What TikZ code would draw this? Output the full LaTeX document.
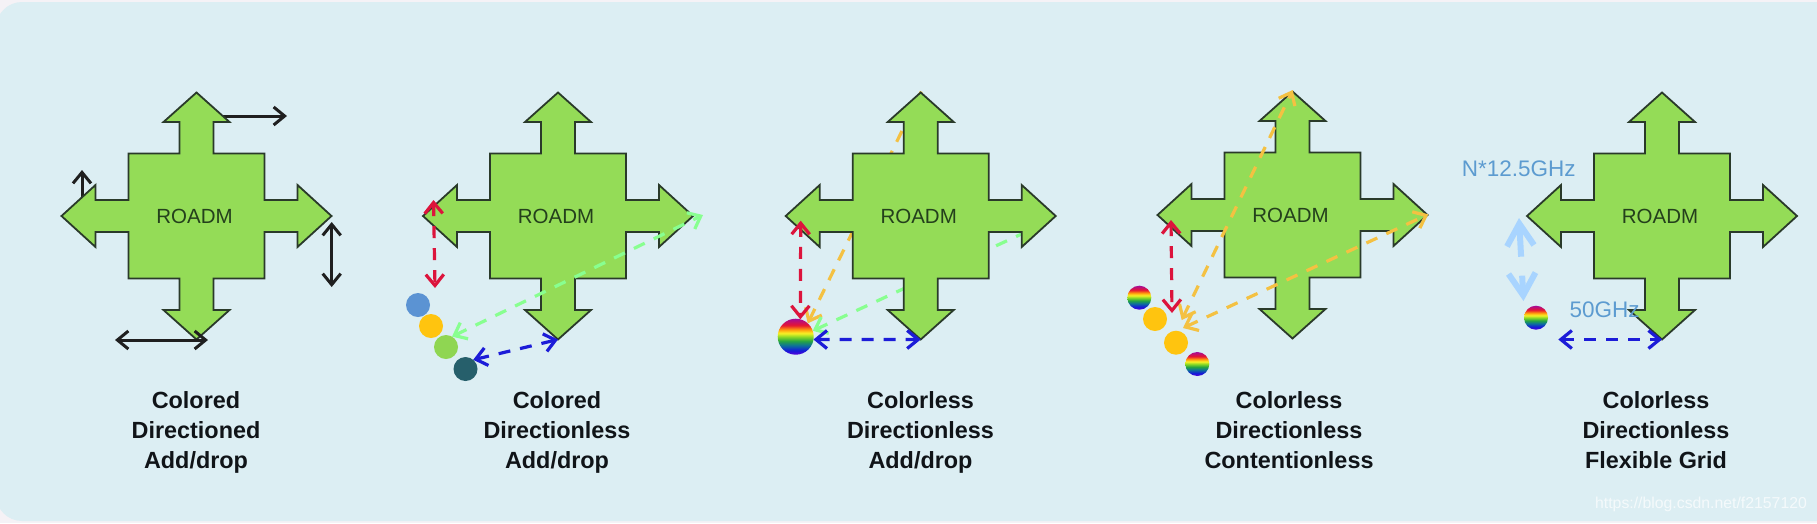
\documentclass[tikz,border=0pt]{standalone}
\usepackage{fontspec}
\setmainfont{Liberation Sans}
\usetikzlibrary{arrows.meta}
\definecolor{panelbg}{HTML}{DCEEF3}
\definecolor{outerbg}{HTML}{F5F2F6}
\definecolor{crossgreen}{HTML}{94DC57}
\definecolor{crossline}{HTML}{2A3A2A}
\definecolor{linkred}{HTML}{DC143C}
\definecolor{linkblue}{HTML}{1C1CD8}
\definecolor{linkgreen}{HTML}{88FF90}
\definecolor{linkorange}{HTML}{F4C142}
\definecolor{lightarrow}{HTML}{A8D4FF}
\definecolor{balblue}{HTML}{5B93D3}
\definecolor{balyellow}{HTML}{FFC40F}
\definecolor{balgreen}{HTML}{8FD652}
\definecolor{baldark}{HTML}{265F6B}
\definecolor{ghz}{HTML}{5C9BD0}
\definecolor{titleink}{HTML}{101418}
\definecolor{roadmink}{HTML}{24401C}
\pgfdeclareverticalshading{rainbowball}{100bp}{
 rgb(0bp)=(0.35,0,0.85); rgb(25bp)=(0.35,0,0.85); rgb(31bp)=(0.08,0.1,0.85);
 rgb(38bp)=(0.05,0.45,0.6); rgb(44bp)=(0.15,0.65,0.25); rgb(50bp)=(0.55,0.85,0.15);
 rgb(55bp)=(0.98,0.95,0.15); rgb(60bp)=(1,0.6,0.05); rgb(66bp)=(0.9,0.08,0.2);
 rgb(75bp)=(0.65,0.05,0.6); rgb(100bp)=(0.65,0.05,0.6)}
\tikzset{
  crossbody/.style={fill=crossgreen,draw=crossline,line width=1.8pt,line join=miter},
  crosslabel/.style={font=\fontsize{20.5}{24}\selectfont,text=roadmink,inner sep=0pt},
  titletext/.style={font=\fontsize{23.4}{29.7}\selectfont\bfseries,text=titleink,align=center,inner sep=0pt},
  ghztext/.style={font=\fontsize{22.5}{26}\selectfont,text=ghz,inner sep=0pt},
  marktext/.style={font=\fontsize{15.8}{18}\selectfont,text=white,opacity=0.7,inner sep=0pt},
  link/.style={line width=3.2pt,dash pattern=on 12pt off 10pt},
  tipboth/.style={{Straight Barb[length=11pt,width=18pt]}-{Straight Barb[length=11pt,width=18pt]}},
  tipstart/.style={{Straight Barb[length=11pt,width=18pt]}-},
  tipend/.style={-{Straight Barb[length=11pt,width=18pt]}},
  blackarrow/.style={line width=3pt,draw=black!88},
  ballnode/.style={circle,inner sep=0pt,outer sep=0pt,minimum size=#1},
  rainbow/.style={shade,shading=rainbowball},
  widthband/.style={line width=6pt,draw=lightarrow,dash pattern=on 30pt off 19pt on 60pt,
    {Straight Barb[length=22pt,width=27pt]}-{Straight Barb[length=22pt,width=27pt]}},
}
\newcommand\roadmcross[3]{%
  \begin{scope}[shift={(#2,#3)}]
    \draw[crossbody] (0,-123.5)--(33,-94)--(17,-94)--(17,-62.5)--(68,-62.5)--(68,-16)--(101,-16)--(101,-31)--(135,0)--(101,31)--(101,16)--(68,16)--(68,62.5)--(17,62.5)--(17,94)--(33,94)--(0,123.5)--(-33,94)--(-17,94)--(-17,62.5)--(-68,62.5)--(-68,16)--(-101,16)--(-101,31)--(-135,0)--(-101,-31)--(-101,-16)--(-68,-16)--(-68,-62.5)--(-17,-62.5)--(-17,-94)--(-33,-94)--cycle;
    \node[crosslabel] (#1-label) at (-2,0) {ROADM};
    \coordinate (#1-t) at (0,-123.5);
    \coordinate (#1-b) at (0,123.5);
    \coordinate (#1-l) at (-135,0);
    \coordinate (#1-r) at (135,0);
  \end{scope}}
\begin{document}
\begin{tikzpicture}[x=1pt,y=-1pt]
\useasboundingbox (0,0) rectangle (1817,523);
\clip (0,0) rectangle (1817,523);
\fill[outerbg] (0,0) rectangle (1817,523);
\fill[panelbg,rounded corners=26pt] (-4,2) rectangle (1860,521);

% --- column 1
\coordinate (a1s) at (222,116); \coordinate (a1e) at (287,116);
\coordinate (a2s) at (82,205); \coordinate (a2e) at (82,170);
\draw[blackarrow,tipend] (a1s) -- (a1e);
\draw[blackarrow,tipend] (a2s) -- (a2e);
\roadmcross{c1}{196.5}{216}
\coordinate (a3s) at (331.7,222); \coordinate (a3e) at (331.7,287);
\coordinate (a4s) at (115,340); \coordinate (a4e) at (208,340);
\draw[blackarrow,tipboth] (a3s) -- (a3e);
\draw[blackarrow,tipboth] (a4s) -- (a4e);
\node[titletext] (t1) at (196,432.5) {Colored\\Directioned\\Add/drop};

% --- column 2
\roadmcross{c2}{558}{216}
\node[ballnode=24pt,fill=balblue] (d2a) at (418,305) {};
\node[ballnode=24pt,fill=balyellow] (d2b) at (431,326) {};
\node[ballnode=24pt,fill=balgreen] (d2c) at (446,347) {};
\node[ballnode=24pt,fill=baldark] (d2d) at (465.5,369) {};
\coordinate (r2a) at (433.5,200); \coordinate (r2b) at (435,288);
\coordinate (g2r) at (703,215);
\draw[link,tipboth,draw=linkred] (r2a) -- (r2b);
\draw[link,tipboth,draw=linkgreen] (d2c.60) -- (g2r);
\draw[link,tipboth,draw=linkblue] (d2d.50) -- (c2-b);
\node[titletext] (t2) at (557,432.5) {Colored\\Directionless\\Add/drop};

% --- column 3
\coordinate (o3t) at (921.7,90.7);
\coordinate (g3r) at (1056,218);
\node[ballnode=36pt,rainbow] (ball3) at (795.7,336.7) {};
\draw[link,tipstart,draw=linkorange] (ball3.48) -- (o3t);
\draw[link,tipstart,draw=linkgreen] (ball3.19) -- (g3r);
\roadmcross{c3}{920.7}{216}
\coordinate (r3a) at (800.7,220.7);
\draw[link,tipboth,draw=linkred] (r3a) -- (ball3.75);
\draw[link,tipboth,draw=linkblue] (ball3.-9) -- (c3-b);
\node[titletext] (t3) at (920.5,432.5) {Colorless\\Directionless\\Add/drop};

% --- column 4
\roadmcross{c4}{1292.5}{215}
\node[ballnode=24pt,rainbow] (ball4a) at (1139.3,297.7) {};
\node[ballnode=24pt,fill=balyellow] (d4b) at (1155,319) {};
\node[ballnode=24pt,fill=balyellow] (d4c) at (1176,342.7) {};
\node[ballnode=24pt,rainbow] (ball4d) at (1197.3,364) {};
\coordinate (r4a) at (1171,220); \coordinate (r4b) at (1172,313);
\coordinate (o4a) at (1181.7,320); \coordinate (o4b) at (1183,328);
\coordinate (o4t) at (1292.7,90); \coordinate (o4r) at (1428.3,214.3);
\draw[link,tipboth,draw=linkorange] (o4a) -- (o4t);
\draw[link,tipboth,draw=linkorange] (o4b) -- (o4r);
\draw[link,tipboth,draw=linkred] (r4a) -- (r4b);
\node[titletext] (t4) at (1289,432.5) {Colorless\\Directionless\\Contentionless\vphantom{p}};

% --- column 5
\roadmcross{c5}{1662}{216}
\node[ballnode=24pt,rainbow] (ball5) at (1536,317.7) {};
\coordinate (w5a) at (1519,218); \coordinate (w5b) at (1523.5,301);
\draw[widthband] (w5a) -- (w5b);
\coordinate (b5a) at (1558.3,339.5);
\draw[link,tipboth,draw=linkblue] (b5a) -- (c5-b);
\node[ghztext] (n125) at (1518.7,169) {N*12.5GHz};
\node[ghztext] (n50) at (1604.7,310) {50GHz};
\node[titletext] (t5) at (1656,432.5) {Colorless\\Directionless\\Flexible Grid\vphantom{p}};

\node[marktext] (wm) at (1701,504) {https://blog.csdn.net/f2157120};
\end{tikzpicture}
\end{document}
